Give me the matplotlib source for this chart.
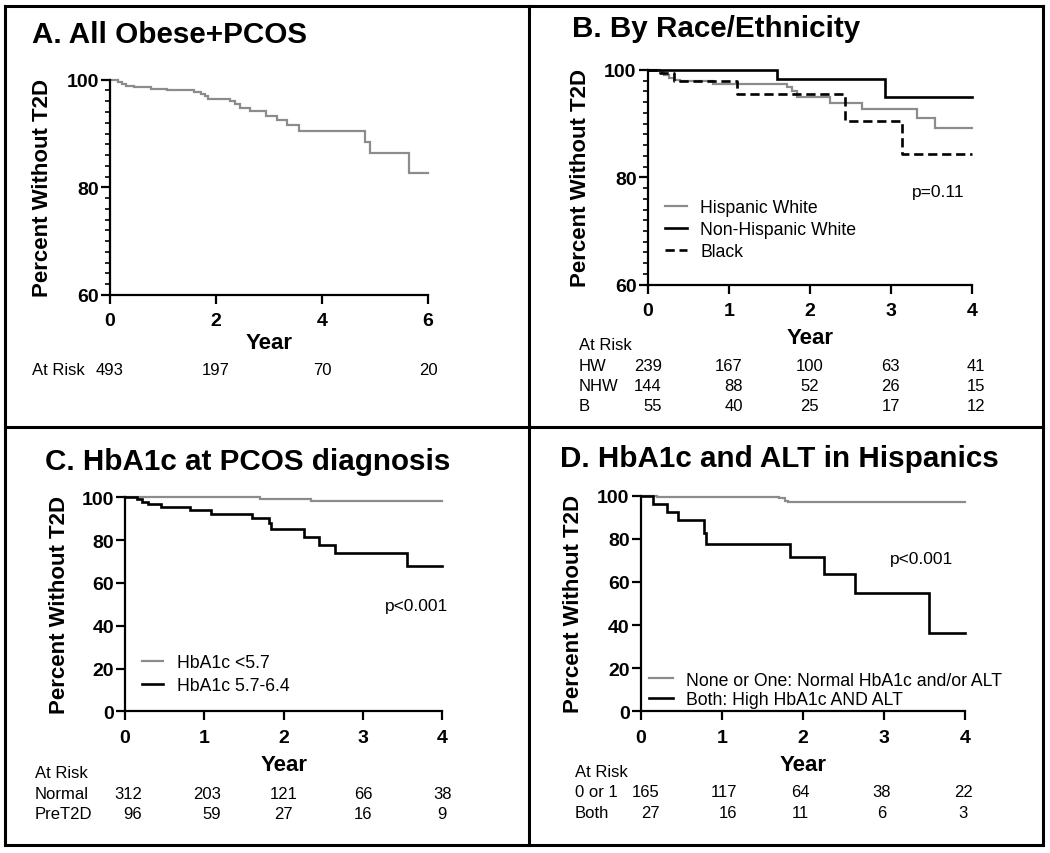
import numpy as np
import matplotlib
matplotlib.use('Agg')
import matplotlib.pyplot as plt
from matplotlib.lines import Line2D
from matplotlib import transforms

plt.rcParams['font.family'] = ['Liberation Sans', 'DejaVu Sans']

# ---------------- data ----------------
# Panel A: all obese + PCOS
a_time = [0, 0.15, 0.22, 0.30, 0.45, 0.78, 1.08, 1.58, 1.72, 1.79, 1.85, 2.27, 2.36,
          2.45, 2.65, 2.94, 3.15, 3.34, 3.56, 4.82, 4.90, 5.65]
a_surv = [100, 99.6, 99.2, 98.9, 98.6, 98.3, 98.0, 97.7, 97.4, 97.0, 96.4, 96.0, 95.4,
          94.8, 94.2, 93.3, 92.5, 91.5, 90.5, 88.4, 86.3, 82.6]
a_end = 6.0
a_risk_years = [0, 2, 4, 6]
a_risk = [493, 197, 70, 20]

# Panel B: by race / ethnicity
b_hw_time = [0, 0.15, 0.20, 0.26, 0.33, 0.40, 0.81, 1.72, 1.78, 1.84, 2.25, 2.64, 3.32, 3.55]
b_hw_surv = [100, 99.6, 99.1, 98.6, 98.2, 97.9, 97.4, 96.8, 96.0, 95.0, 93.9, 92.8, 91.0, 89.2]
b_nhw_time = [0, 1.60, 2.93]
b_nhw_surv = [100, 98.4, 94.9]
b_blk_time = [0, 0.15, 0.32, 1.10, 2.44, 3.14]
b_blk_surv = [100, 99.5, 98.0, 95.6, 90.5, 84.3]
b_end = 4.0
b_labels = ['Hispanic White', 'Non-Hispanic White', 'Black']
b_risk_rows = ['HW', 'NHW', 'B']
b_risk = [[239, 167, 100, 63, 41],
          [144, 88, 52, 26, 15],
          [55, 40, 25, 17, 12]]
b_p = 'p=0.11'

# Panel C: HbA1c at PCOS diagnosis
c_norm_time = [0, 1.70, 2.35]
c_norm_surv = [100, 99.1, 98.1]
c_pre_time = [0, 0.15, 0.21, 0.29, 0.46, 0.82, 1.09, 1.60, 1.81, 1.84, 2.26, 2.45, 2.65, 3.55]
c_pre_surv = [100, 99.0, 98.0, 96.8, 95.4, 94.1, 92.4, 90.2, 87.9, 85.3, 81.6, 77.6, 73.8, 67.8]
c_end = 4.0
c_labels = ['HbA1c <5.7', 'HbA1c 5.7-6.4']
c_risk_rows = ['Normal', 'PreT2D']
c_risk = [[312, 203, 121, 66, 38],
          [96, 59, 27, 16, 9]]
c_p = 'p<0.001'

# Panel D: HbA1c and ALT in Hispanics
d_one_time = [0, 0.20, 1.70, 1.78, 1.82]
d_one_surv = [100, 99.5, 98.8, 97.7, 96.9]
d_both_time = [0, 0.15, 0.33, 0.46, 0.78, 0.81, 1.84, 2.26, 2.64, 3.55]
d_both_surv = [100, 96.3, 92.6, 88.9, 82.7, 77.4, 71.7, 63.7, 54.7, 36.2]
d_end = 4.0
d_labels = ['None or One: Normal HbA1c and/or ALT', 'Both: High HbA1c AND ALT']
d_risk_rows = ['0 or 1', 'Both']
d_risk = [[165, 117, 64, 38, 22],
          [27, 16, 11, 6, 3]]
d_p = 'p<0.001'

risk_years_4 = [0, 1, 2, 3, 4]

# ---------------- layout helpers ----------------
W, H = 1050, 854
fig = plt.figure(figsize=(10.5, 8.54), dpi=100)


def fx(x):
    return x / W


def fy(y):
    return 1 - y / H


GRAY = '#8c8c8c'
LW_G = 1.6
LW_K = 1.9


def make_axes(left, right, top, bottom):
    return fig.add_axes([fx(left), fy(bottom), (right - left) / W, (bottom - top) / H])


def style(ax, xmax, xstep, ymin, minor, ylab_x, xlab_y):
    for s in ['top', 'right']:
        ax.spines[s].set_visible(False)
    for s in ['left', 'bottom']:
        ax.spines[s].set_linewidth(1.6)
    ax.set_xlim(0, xmax)
    ax.set_ylim(ymin, 100)
    xt = list(range(0, int(xmax) + 1, xstep))
    ax.set_xticks(xt, [str(v) for v in xt])
    yt = list(range(ymin, 101, 20))
    ax.set_yticks(yt, [str(v) for v in yt])
    if minor:
        ax.set_yticks(list(range(ymin, 101, 2)), minor=True)
    ax.tick_params(axis='both', which='major', direction='out', length=6.5, width=1.6,
                   labelsize=14)
    ax.tick_params(axis='x', pad=6)
    ax.tick_params(axis='y', pad=1.5)
    ax.tick_params(axis='y', which='minor', direction='out', length=3.5, width=1.2)
    for lab in ax.get_xticklabels() + ax.get_yticklabels():
        lab.set_fontweight('bold')
    ax.set_ylabel('Percent Without T2D', fontsize=16, fontweight='bold')
    ax.yaxis.set_label_coords(ylab_x, 0.5)
    ax.yaxis.label.set_va('center')
    ax.set_xlabel('Year', fontsize=16, fontweight='bold')
    ax.xaxis.set_label_coords(0.5, xlab_y)
    ax.xaxis.label.set_va('top')


def km(ax, t, s, end, **kw):
    ax.step(list(t) + [end], list(s) + [s[-1]], where='post', clip_on=False,
            solid_joinstyle='miter', **kw)


def risk_table(ax, left_x, base_ys, row_labels, years, rows, aligns):
    fig.text(fx(left_x), fy(base_ys[0]), 'At Risk', fontsize=12, va='baseline', ha='left')
    trans = transforms.blended_transform_factory(ax.transData, fig.transFigure)
    for r, (lab, vals) in enumerate(zip(row_labels, rows)):
        y = fy(base_ys[r + 1])
        fig.text(fx(left_x), y, lab, fontsize=12, va='baseline', ha='left')
        for c, (yr, v) in enumerate(zip(years, vals)):
            ha, dx = aligns[c]
            tr = transforms.offset_copy(trans, fig=fig, x=dx, y=0, units='dots')
            ax.text(yr, y, str(v), transform=tr, fontsize=12, va='baseline', ha=ha)


# ---------------- Panel A ----------------
axA = make_axes(110, 428, 80.7, 296)
style(axA, 6, 2, 60, True, -0.211, -0.172)
km(axA, a_time, a_surv, a_end, color=GRAY, lw=LW_G)
fig.text(fx(32), fy(43), 'A. All Obese+PCOS', fontsize=21.3, fontweight='bold',
         va='baseline', ha='left')
transA = transforms.blended_transform_factory(axA.transData, fig.transFigure)
fig.text(fx(32), fy(375), 'At Risk', fontsize=12, va='baseline', ha='left')
for yr, v in zip(a_risk_years, a_risk):
    axA.text(yr, fy(375), str(v), transform=transA, fontsize=12, va='baseline', ha='center')

# ---------------- Panel B ----------------
axB = make_axes(647.7, 971.7, 71, 285.7)
style(axB, 4, 1, 60, True, -0.206, -0.196)
km(axB, b_hw_time, b_hw_surv, b_end, color=GRAY, lw=LW_G)
km(axB, b_nhw_time, b_nhw_surv, b_end, color='black', lw=LW_K)
km(axB, b_blk_time, b_blk_surv, b_end, color='black', lw=LW_K, linestyle=(0, (3.5, 1.8)))
fig.text(fx(572), fy(37), 'B. By Race/Ethnicity', fontsize=21.3, fontweight='bold',
         va='baseline', ha='left')
hB = [Line2D([], [], color=GRAY, lw=LW_G),
      Line2D([], [], color='black', lw=LW_K),
      Line2D([], [], color='black', lw=LW_K, linestyle=(0, (3.5, 1.8)))]
axB.legend(hB, b_labels, loc='upper left', bbox_to_anchor=(fx(665), fy(200)),
           bbox_transform=fig.transFigure, frameon=False, fontsize=12.7,
           handlelength=1.25, handletextpad=0.74, labelspacing=0.28,
           borderpad=0, borderaxespad=0)
fig.text(fx(965), fy(197.5), b_p, fontsize=12.5, ha='right', va='baseline')
risk_table(axB, 579, [350, 370.7, 390.7, 410.7], b_risk_rows, risk_years_4, b_risk,
           [('right', 14), ('right', 14), ('center', 0), ('center', 0), ('center', 4)])

# ---------------- Panel C ----------------
axC = make_axes(125, 442.3, 498.3, 712.3)
style(axC, 4, 1, 0, False, -0.208, -0.201)
km(axC, c_norm_time, c_norm_surv, c_end, color=GRAY, lw=LW_G)
km(axC, c_pre_time, c_pre_surv, c_end, color='black', lw=LW_K)
fig.text(fx(45), fy(470), 'C. HbA1c at PCOS diagnosis', fontsize=21.3, fontweight='bold',
         va='baseline', ha='left')
hC = [Line2D([], [], color=GRAY, lw=LW_G), Line2D([], [], color='black', lw=LW_K)]
axC.legend(hC, c_labels, loc='upper left', bbox_to_anchor=(fx(142), fy(655.5)),
           bbox_transform=fig.transFigure, frameon=False, fontsize=12.7,
           handlelength=1.2, handletextpad=0.8, labelspacing=0.32,
           borderpad=0, borderaxespad=0)
fig.text(fx(448), fy(610.7), c_p, fontsize=12.5, ha='right', va='baseline')
risk_table(axC, 35, [778.3, 799.3, 819.3], c_risk_rows, risk_years_4, c_risk,
           [('right', 17), ('right', 17), ('center', 0), ('center', 0), ('center', 0)])

# ---------------- Panel D ----------------
axD = make_axes(640.7, 965, 496.7, 712.3)
style(axD, 4, 1, 0, False, -0.206, -0.199)
km(axD, d_one_time, d_one_surv, d_end, color=GRAY, lw=LW_G)
km(axD, d_both_time, d_both_surv, d_end, color='black', lw=LW_K)
fig.text(fx(560), fy(466.7), 'D. HbA1c and ALT in Hispanics', fontsize=21.3,
         fontweight='bold', va='baseline', ha='left')
hD = [Line2D([], [], color=GRAY, lw=LW_G), Line2D([], [], color='black', lw=LW_K)]
axD.legend(hD, d_labels, loc='upper left', bbox_to_anchor=(fx(649), fy(672.5)),
           bbox_transform=fig.transFigure, frameon=False, fontsize=12.7,
           handlelength=1.37, handletextpad=0.74, labelspacing=0.17,
           borderpad=0, borderaxespad=0)
fig.text(fx(953), fy(564), d_p, fontsize=12.5, ha='right', va='baseline')
risk_table(axD, 575, [776.7, 797.3, 818.3], d_risk_rows, risk_years_4, d_risk,
           [('right', 19), ('right', 15), ('center', -2), ('center', -2), ('center', -2)])

# ---------------- frame ----------------
FL = 2.2
for (x0, y0, x1, y1) in [(5, 7, 1043, 7), (5, 846, 1043, 846), (5, 7, 5, 846),
                         (1043, 7, 1043, 846), (529.3, 7, 529.3, 846),
                         (5, 428.3, 1043, 428.3)]:
    fig.add_artist(Line2D([fx(x0), fx(x1)], [fy(y0), fy(y1)], transform=fig.transFigure,
                          color='black', lw=FL, solid_capstyle='projecting'))

fig.savefig('out.png', dpi=100)
